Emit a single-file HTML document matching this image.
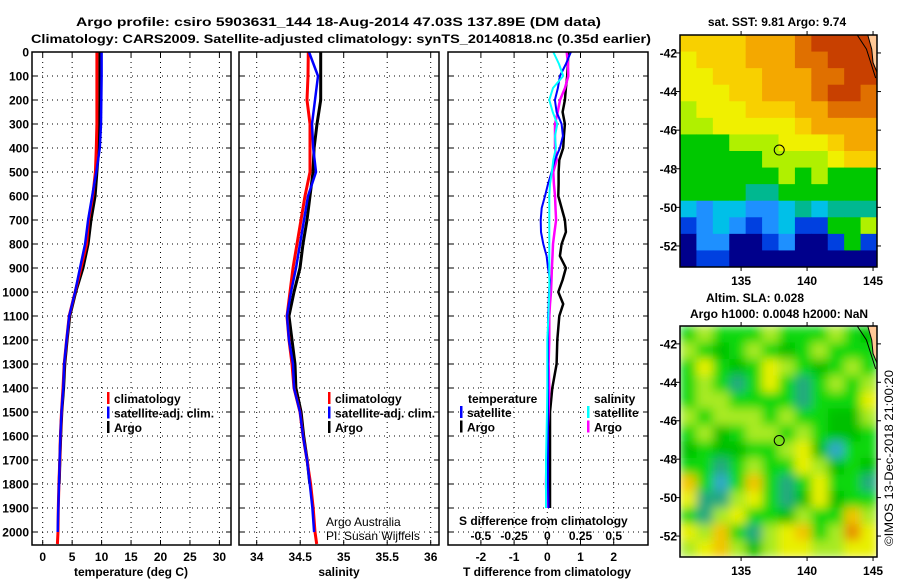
<!DOCTYPE html>
<html><head><meta charset="utf-8"><style>
html,body{margin:0;padding:0;background:#fff;}
svg{display:block;font-family:"Liberation Sans",sans-serif;}
.t{font-weight:bold;font-size:12px;}
</style></head><body>
<svg id="fig" width="900" height="580" viewBox="0 0 900 580" xmlns="http://www.w3.org/2000/svg">
<rect width="900" height="580" fill="#fff"/>
<text x="76" y="26" class="t" font-size="14" textLength="525" lengthAdjust="spacingAndGlyphs">Argo profile: csiro 5903631_144 18-Aug-2014 47.03S 137.89E (DM data)</text>
<text x="31" y="43" class="t" font-size="14" textLength="620" lengthAdjust="spacingAndGlyphs">Climatology: CARS2009. Satellite-adjusted climatology: synTS_20140818.nc (0.35d earlier)</text>
<g id="p1"></g>
<g id="p2"></g>
<g id="p3"></g>
<g id="m1"></g>
<g id="m2"></g>
<text x="0" y="0" font-size="12" transform="translate(893,546) rotate(-90)" textLength="176" lengthAdjust="spacingAndGlyphs">©IMOS 13-Dec-2018 21:00:20</text>
</svg>
<script>
// ---- profile data ----
const depths = [0,100,200,300,400,500,600,700,800,900,1000,1100,1200,1300,1400,1500,1600,1700,1800,1900,2000,2050];
const tempClim = [9.2,9.2,9.2,9.2,9.1,8.95,8.5,7.8,7.45,6.5,5.5,4.5,4.05,3.65,3.45,3.2,3.0,2.9,2.75,2.65,2.6,2.5];
const tempSat  = [10.0,10.0,9.95,9.9,9.7,9.1,8.4,7.7,7.2,6.33,5.5,4.5,4.05,3.65,3.5,3.2,3.0,2.88,2.77,2.65,2.55,null];
const tempArgo = [9.7,9.7,9.7,9.6,9.5,9.2,8.9,8.2,7.7,6.85,5.6,4.6,4.15,3.75,3.55,3.25,3.05,2.92,2.8,null,null,null];
const salClim = [34.593,34.59,34.578,34.613,34.613,34.613,34.555,34.509,34.463,34.417,34.383,34.348,34.371,34.406,34.429,34.498,34.532,34.578,34.62,34.65,34.67,34.69];
const salSat  = [34.601,34.705,34.670,34.636,34.65,34.682,34.590,34.544,34.498,34.452,34.394,34.348,34.371,34.417,34.429,34.498,34.532,34.578,34.61,34.64,34.66,null];
const salArgo = [34.736,34.736,34.736,34.693,34.66,34.647,34.613,34.578,34.532,34.498,34.429,34.371,34.406,34.44,34.45,34.51,34.54,34.58,34.61,null,null,null];
const diffDepths = [0,50,100,150,200,250,300,350,400,450,500,550,600,650,700,750,800,850,900,950,1000,1050,1100,1200,1300,1400,1500,1600,1700,1800,1900];
const dTSat  = [0.71,0.56,0.38,0.32,0.23,0.28,0.43,0.47,0.38,0.23,0.13,0.02,-0.07,-0.17,-0.20,-0.19,-0.12,-0.02,0.02,0.08,0.05,0.04,0.02,0.02,0.02,0.02,0.02,0.02,0.02,0.02,0.04];
const dTArgo = [0.63,0.62,0.60,0.56,0.53,0.46,0.53,0.50,0.48,0.36,0.34,0.34,0.33,0.43,0.53,0.56,0.43,0.38,0.56,0.46,0.33,0.48,0.36,0.30,0.28,0.15,0.08,0.08,0.08,0.08,0.08];
const dSArgo = [0.146,0.156,0.158,0.133,0.096,0.078,0.058,0.058,0.058,0.071,0.045,0.050,0.058,0.062,0.066,0.054,0.043,0.039,0.035,0.032,0.028,0.020,0.015,0.015,0.010,0.015,0.009,0.0,-0.006,-0.010,-0.002];
const dSSat  = [0.045,0.088,0.120,0.043,0.015,0.041,0.075,0.058,0.065,0.045,0.035,0.020,0.015,0.015,0.015,0.015,0.015,0.015,0.015,0.015,0.015,0.011,0.008,0,0,0,-0.002,-0.006,-0.010,-0.010,-0.010];
const depthTicks = [0,100,200,300,400,500,600,700,800,900,1000,1100,1200,1300,1400,1500,1600,1700,1800,1900,2000];
const tempTicks = [0,5,10,15,20,25,30];
const salTicks = [34,34.5,35,35.5,36];
const salTickLabels = ["34","34.5","35","35.5","36"];
const dTTicks = [-2,-1,0,1,2];
const dSTicks = [-0.5,-0.25,0,0.25,0.5];
const dSTickLabels = ["-0.5","-0.25","0","0.25","0.5"];
// ---- map data (level indices) ----
const lonTicks = [135,140,145];
const latTicks = [-42,-44,-46,-48,-50,-52];
const sstGrid = [
[8,8,8,8,9,9,9,10,11,11,11,11],
[7,8,8,8,9,9,9,10,10,11,11,11],
[7,7,8,8,8,9,9,9,10,10,11,11],
[7,7,7,8,8,9,9,9,10,11,11,10],
[6,7,7,7,8,8,8,9,9,10,10,10],
[6,6,7,7,7,7,7,8,9,9,9,9],
[5,5,5,6,6,6,7,7,7,8,9,9],
[5,5,5,5,5,6,6,6,6,7,8,8],
[5,5,5,5,5,5,6,5,6,5,5,5],
[5,5,5,5,4,4,5,5,5,5,5,5],
[3,2,3,3,2,2,3,4,3,4,4,4],
[1,2,3,2,1,2,3,1,1,5,5,6],
[0,2,2,0,0,1,2,0,0,1,5,1],
[0,1,1,0,0,0,0,0,0,0,0,0]];
const slaGrid = [
[3,4,3,3,3,4,3,3,3,4,3,2],
[4,3,2,3,4,3,2,3,4,3,3,3],
[3,5,3,2,3,5,4,3,2,3,4,3],
[3,4,3,1,3,5,3,1,3,4,3,4],
[3,4,4,3,3,3,3,1,3,3,3,5],
[4,3,4,4,4,3,4,3,3,2,2,4],
[3,4,2,3,4,4,3,4,3,2,2,3],
[2,3,2,2,3,3,4,5,2,0,3,3],
[3,3,1,3,4,3,3,5,4,2,3,2],
[6,3,0,3,6,3,1,3,5,3,3,1],
[5,1,1,4,5,3,1,2,5,2,3,3],
[3,1,4,5,3,3,2,4,3,3,6,4],
[5,4,6,3,1,4,5,6,3,4,7,5],
[4,5,6,4,2,4,5,5,4,4,5,5]];
const floatLon = 137.89, floatLat = -47.03;

const NS='http://www.w3.org/2000/svg';
function mk(tag, attrs, parent){const e=document.createElementNS(NS,tag);for(const k in attrs)e.setAttribute(k,attrs[k]);parent.appendChild(e);return e;}
function txt(s,x,y,anchor,parent,cls){const e=mk('text',{x:x,y:y,'text-anchor':anchor||'start'},parent);if(cls!==null)e.setAttribute('class',cls||'t');e.textContent=s;return e;}

const Y0=52, Y1=545;
const yD = d => Y0 + d*0.24;

function panel(g, x0, x1, xs, ticks, labels, showY){
  mk('rect',{x:x0,y:Y0,width:x1-x0,height:Y1-Y0,fill:'#fff'},g);
  ticks.forEach(v=>{const x=xs(v);
    const l=mk('line',{x1:x,x2:x,y1:Y0,y2:Y1,stroke:'#000','stroke-dasharray':'1,4','stroke-width':1},g);
    
    mk('line',{x1:x,x2:x,y1:Y1,y2:Y1-5,stroke:'#000'},g);mk('line',{x1:x,x2:x,y1:Y0,y2:Y0+5,stroke:'#000'},g);});
  depthTicks.forEach((d,i)=>{const y=yD(d);
    if(i>0){const l=mk('line',{x1:x0,x2:x1,y1:y,y2:y,stroke:'#000','stroke-dasharray':'1,4'},g);
      }
    mk('line',{x1:x0,x2:x0+5,y1:y,y2:y,stroke:'#000'},g);mk('line',{x1:x1-5,x2:x1,y1:y,y2:y,stroke:'#000'},g);
    if(showY){const t=txt(String(d),29,y+4.5,'end',g);}
  });
  if(labels){ticks.forEach((v,i)=>{const t=txt(labels[i],xs(v),561,'middle',g);
    });}
}
function frame(g,x0,x1,y0,y1){mk('rect',{x:x0,y:y0,width:x1-x0,height:y1-y0,fill:'none',stroke:'#000','stroke-width':1.5},g);}
function series(g, vals, dep, xs, color, w, name){
  let pts=[];vals.forEach((v,i)=>{if(v!==null)pts.push(xs(v).toFixed(1)+','+yD(dep[i]).toFixed(1));});
  const p=mk('polyline',{points:pts.join(' '),fill:'none',stroke:color,'stroke-width':w,'stroke-linejoin':'round'},g);
  
  
}
function legend(g,x,y,items){items.forEach((it,i)=>{const yy=y+i*14.5;
  mk('rect',{x:x,y:yy-11,width:2.5,height:12,fill:it[1]},g);
  const t=txt(it[0],x+7,yy,'start',g);});}

// Panel 1: temperature
const g1=document.getElementById('p1');
const xT = v => 42.7 + v*5.89;
panel(g1,32,231,xT,tempTicks,tempTicks.map(String),true);
series(g1,tempArgo,depths,xT,'#000',3,'argo-temperature-line');
series(g1,tempClim,depths,xT,'#f00',3,'climatology-temperature-line');
series(g1,tempSat,depths,xT,'#00f',2.5,'satellite-temperature-line');
frame(g1,32,231,Y0,Y1);
legend(g1,107,403,[['climatology','#f00'],['satellite-adj. clim.','#00f'],['Argo','#000']]);
let t=txt('temperature (deg C)',131,576,'middle',g1);t.setAttribute('font-size','13');

// Panel 2: salinity
const g2=document.getElementById('p2');
const xS = v => 256.7 + (v-34)*87;
panel(g2,239,439,xS,salTicks,salTickLabels,false);
series(g2,salArgo,depths,xS,'#000',3,'argo-salinity-line');
series(g2,salClim,depths,xS,'#f00',3,'climatology-salinity-line');
series(g2,salSat,depths,xS,'#00f',2.5,'satellite-salinity-line');
frame(g2,239,439,Y0,Y1);
legend(g2,328,403,[['climatology','#f00'],['satellite-adj. clim.','#00f'],['Argo','#000']]);
t=txt('salinity',339,576,'middle',g2);t.setAttribute('font-size','13');
t=txt('Argo Australia',326,526,'start',g2,null);t.setAttribute('font-size','12');
t=txt('PI: Susan Wijffels',326,540,'start',g2,null);t.setAttribute('font-size','12');

// Panel 3: differences
const g3=document.getElementById('p3');
const xdT = v => 547.3 + v*33.2;
const xdS = v => 547.3 + v*132.8;
panel(g3,448,648,xdT,dTTicks,null,false);
dTTicks.forEach(v=>{const tt=txt(String(v),xdT(v),561,'middle',g3);});
dSTicks.forEach((v,i)=>{const tt=txt(dSTickLabels[i],xdS(v),540,'middle',g3);});
series(g3,dTArgo,diffDepths,xdT,'#000',2.5,'argo-t-diff-line');
series(g3,dSArgo,diffDepths,xdS,'#f0f',2.5,'argo-s-diff-line');
series(g3,dTSat,diffDepths,xdT,'#00f',2,'satellite-t-diff-line');
series(g3,dSSat,diffDepths,xdS,'#0ff',2,'satellite-s-diff-line');
frame(g3,448,648,Y0,Y1);
t=txt('temperature',468,403,'start',g3);
legend(g3,460,417,[['satellite','#00f'],['Argo','#000']]);
t=txt('salinity',594,403,'start',g3);
legend(g3,587,417,[['satellite','#0ff'],['Argo','#f0f']]);
t=txt('S difference from climatology',459,525,'start',g3);
t=txt('T difference from climatology',547,576,'middle',g3);t.setAttribute('font-size','13');

// Maps
const MX0=680, MX1=877, LON0=130.37, LON1=145.3, LAT0=-41.07, LAT1=-53.09;
const sstColors=['#00008c','#0040e0','#1e90ff','#00c0e8','#00b890','#00c800','#b0f000','#f0f000','#f8d000','#f4a800','#e07000','#c84000','#a01000'];
const slaColors=['#30a8c8','#20a880','#00c000','#10d810','#a8ea20','#e8f000','#f2c400','#e89000'];
function map(id, grid, colors, y0, y1, title1, title2, blur){
  const g=document.getElementById(id);
  const xL = lon => MX0 + (lon-LON0)/(LON1-LON0)*(MX1-MX0);
  const yL = lat => y0 + (lat-LAT0)/(LAT1-LAT0)*(y1-y0);
  const defs=mk('defs',{},g);
  const cp=mk('clipPath',{id:'cp'+id},defs);mk('rect',{x:MX0,y:y0,width:MX1-MX0,height:y1-y0},cp);
  if(blur){const f=mk('filter',{id:'bl'+id,x:'-10%',y:'-10%',width:'120%',height:'120%'},defs);mk('feGaussianBlur',{stdDeviation:blur},f);}
  const outer=mk('g',{'clip-path':'url(#cp'+id+')'},g);
  const cells=mk('g',blur?{filter:'url(#bl'+id+')'}:{},outer);
  const nr=grid.length, nc=grid[0].length;
  const cw=(LON1-LON0)/nc, ch=(LAT0-LAT1)/nr;
  grid.forEach((row,r)=>row.forEach((v,c)=>{
    const xa=xL(LON0+c*cw), xb=xL(LON0+(c+1)*cw), ya=yL(LAT0-r*ch), yb=yL(LAT0-(r+1)*ch);
    const rc=mk('rect',{x:xa-(blur?8:0),y:ya-(blur?8:0),width:xb-xa+(blur?16:0.5),height:yb-ya+(blur?16:0.5),fill:colors[v]},cells);
    if(blur){rc.setAttribute('x',xa);rc.setAttribute('y',ya);rc.setAttribute('width',xb-xa+0.5);rc.setAttribute('height',yb-ya+0.5);}
    
    
  }));
  // land (Tasmania edge)
  const land=mk('polygon',{points:[[xL(144.6),y0],[MX1,y0],[MX1,yL(-43.0)],[xL(145.0),yL(-42.5)],[xL(144.9),yL(-41.8)]].map(p=>p.join(',')).join(' '),fill:'#ffc896',stroke:'#000','stroke-width':1},outer);
  
  mk('polyline',{points:[[xL(143.8),y0],[xL(144.5),yL(-41.8)],[xL(145.2),yL(-43.3)]].map(p=>p.join(',')).join(' '),fill:'none',stroke:'#000','stroke-width':1},outer);
  const cir=mk('circle',{cx:xL(floatLon),cy:yL(floatLat),r:5,fill:'none',stroke:'#000','stroke-width':1},g);
  
  frame(g,MX0,MX1,y0,y1);
  lonTicks.forEach(v=>{const x=xL(v);mk('line',{x1:x,x2:x,y1:y1,y2:y1+4,stroke:'#000'},g);mk('line',{x1:x,x2:x,y1:y0,y2:y0-4,stroke:'#000'},g);
    const tt=txt(String(v),x,y1+18,'middle',g);});
  latTicks.forEach(v=>{const y=yL(v);mk('line',{x1:MX0-4,x2:MX0,y1:y,y2:y,stroke:'#000'},g);mk('line',{x1:MX1,x2:MX1+4,y1:y,y2:y,stroke:'#000'},g);
    const tt=txt(String(v),MX0-3,y+4.5,'end',g);});
  title1.forEach(o=>{const tt=txt(o[0],o[1],o[2],'middle',g);});
}
map('m1',sstGrid,sstColors,35,267,[['sat. SST: 9.81 Argo: 9.74',777,26]],null,0);
map('m2',slaGrid,slaColors,326,557,[['Altim. SLA: 0.028',755,302],['Argo h1000: 0.0048 h2000: NaN',779,318]],null,5);
</script>
</body></html>
